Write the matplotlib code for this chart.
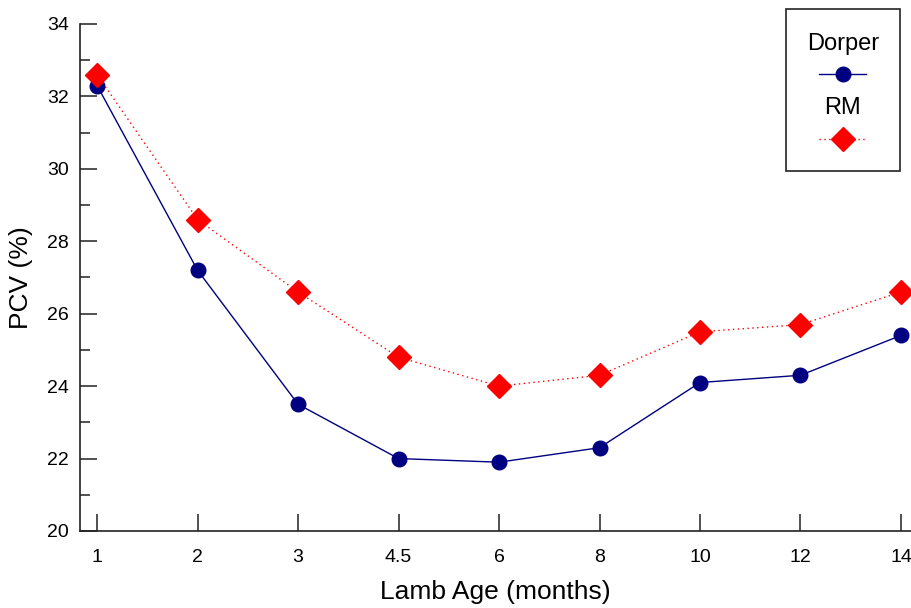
import matplotlib.pyplot as plt
from matplotlib.patches import Rectangle
from matplotlib.lines import Line2D
from matplotlib.ticker import MultipleLocator

plt.rcParams["font.family"] = ["Liberation Sans", "DejaVu Sans"]

# data
ages = ["1", "2", "3", "4.5", "6", "8", "10", "12", "14"]
dorper = [32.3, 27.2, 23.5, 22.0, 21.9, 22.3, 24.1, 24.3, 25.4]
rm = [32.6, 28.6, 26.6, 24.8, 24.0, 24.3, 25.5, 25.7, 26.6]

fig = plt.figure(figsize=(9.11, 6.08), dpi=100)
ax = fig.add_axes([80 / 911, 1 - 531 / 608, 1 - 80 / 911, (531 - 24) / 608])

x = list(range(len(ages)))
ax.plot(x, dorper, color="#000080", lw=1.0, marker="o", ms=10.5, label="Dorper", zorder=3)
ax.plot(x, rm, color="red", lw=1.0, ls=(0, (1, 2.5)), marker="D", ms=12, label="RM", zorder=4)

ax.set_xlim(-0.17, 8.1)
ax.set_ylim(20, 34)
ax.set_xticks(x)
ax.set_xticklabels(ages)
ax.yaxis.set_major_locator(MultipleLocator(2))
ax.yaxis.set_minor_locator(MultipleLocator(1))

for s in ["top", "right"]:
    ax.spines[s].set_visible(False)
for s in ["left", "bottom"]:
    ax.spines[s].set_linewidth(1.2)
    ax.spines[s].set_color("#222222")

ax.tick_params(axis="both", which="major", direction="in", length=12, width=1.2,
               labelsize=14, color="#333333")
ax.tick_params(axis="y", which="minor", direction="in", length=7, width=1.2, color="#333333")
ax.tick_params(axis="x", pad=13)
ax.tick_params(axis="y", pad=8)

ax.set_xlabel("Lamb Age (months)", fontsize=19, labelpad=10)
ax.set_ylabel("PCV (%)", fontsize=19, labelpad=10)

# legend: label above sample line
box = Rectangle((786 / 911, 1 - 171 / 608), 114 / 911, 162 / 608, transform=fig.transFigure,
                fill=False, lw=1.2, edgecolor="#222222")
fig.add_artist(box)
fig.text(843 / 911, 1 - 44 / 608, "Dorper", ha="center", va="center", fontsize=17)
fig.add_artist(Line2D([819 / 911, 866 / 911], [1 - 74 / 608] * 2, transform=fig.transFigure,
                      color="#000080", lw=1.0))
fig.add_artist(Line2D([843 / 911], [1 - 74 / 608], transform=fig.transFigure,
                      color="#000080", marker="o", ms=10.5))
fig.text(843 / 911, 1 - 108 / 608, "RM", ha="center", va="center", fontsize=17)
fig.add_artist(Line2D([819 / 911, 866 / 911], [1 - 139 / 608] * 2, transform=fig.transFigure,
                      color="red", lw=1.0, ls=(0, (1, 2.5))))
fig.add_artist(Line2D([843 / 911], [1 - 139 / 608], transform=fig.transFigure,
                      color="red", marker="D", ms=12))

fig.savefig("out.png", dpi=100)
